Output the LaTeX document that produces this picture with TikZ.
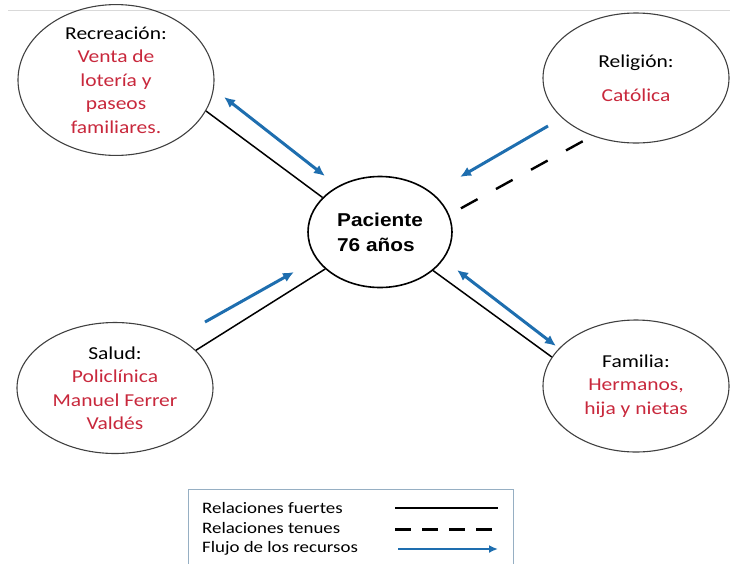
\documentclass[tikz,border=0pt]{standalone}
\usepackage{fontspec}
\setmainfont{Carlito}[FakeStretch=1.18]
\newfontfamily\pacfont{Liberation Sans}[FakeStretch=1.12]
\usetikzlibrary{shapes.geometric,arrows.meta}
\definecolor{textred}{RGB}{200,40,60}
\definecolor{flowblue}{RGB}{30,110,175}
\definecolor{boxgray}{RGB}{150,175,195}
\newcommand{\rd}[1]{\textcolor{textred}{#1}}
\tikzset{
  ambit/.style={draw=black!75, line width=1.1pt, ellipse, inner sep=0pt, align=center,
    font=\fontsize{18.2}{23.5}\selectfont},
  strong/.style={line width=1.5pt},
  weak/.style={line width=2.4pt, dash pattern=on 19pt off 21pt},
  flow/.style={flowblue, line width=3pt, -{Latex[length=11pt,width=10pt]}},
  flowboth/.style={flow, {Latex[length=11pt,width=10pt]}-{Latex[length=11pt,width=10pt]}},
  legtext/.style={anchor=west, inner sep=0pt, font=\fontsize{16}{20}\selectfont}
}
\begin{document}
\begin{tikzpicture}[x=1pt,y=-1pt]
                \useasboundingbox (0,0) rectangle (730,563);
                \draw[black!15] (8,10) -- (730,10);
                \draw (116,80) node[ambit, minimum width=196pt, minimum height=126pt] (rec) {Recreación:\\ \rd{Venta de}\\ \rd{lotería y}\\ \rd{paseos}\\ \rd{familiares.}};
                \draw (636,78) node[ambit, minimum width=186pt, minimum height=130pt] (rel) {Religión:\\[11pt] \rd{Católica}};
                \draw (380,232) node[ambit, draw=black, line width=1.6pt, minimum width=144pt, minimum height=111pt, align=left, font=\pacfont\bfseries\fontsize{18.6}{25}\selectfont] (pac) {Paciente\\76 años};
                \draw (115,388) node[ambit, minimum width=196pt, minimum height=131pt] (sal) {Salud:\\ \rd{Policlínica}\\ \rd{Manuel Ferrer}\\ \rd{Valdés}};
                \draw (636,386) node[ambit, minimum width=186pt, minimum height=132pt] (fam) {Familia:\\ \rd{Hermanos,}\\ \rd{hija y nietas}};
                \draw[strong] (rec.-19) -- (pac.149);
                \draw[weak, shorten <=11pt, shorten >=13pt] (rel.233) -- (pac.14);
                \draw[strong] (sal.25) -- (pac.214);
                \draw[strong] (pac.-36) -- (fam.161);
                \coordinate (recA) at (224,97);
                \coordinate (recB) at (325,176);
                \coordinate (relA) at (548,126);
                \coordinate (relB) at (460,177);
                \coordinate (salA) at (205,322);
                \coordinate (salB) at (294,272);
                \coordinate (famA) at (457,270);
                \coordinate (famB) at (556,346);
                \draw[flowboth] (recA) -- (recB);
                \draw[flow] (relA) -- (relB);
                \draw[flow] (salA) -- (salB);
                \draw[flowboth] (famA) -- (famB);
                \draw[boxgray, line width=1pt] (188,575) -- (188,489) -- (513,489) -- (513,575);
                \draw (202,508) node[legtext] (leg1) {Relaciones fuertes};
                \draw (202,528) node[legtext] (leg2) {Relaciones tenues};
                \draw (202,548) node[legtext] (leg3) {Flujo de los recursos};
                \coordinate (l1a) at (395,508);
                \coordinate (l1b) at (498,508);
                \coordinate (l2a) at (395,529);
                \coordinate (l2b) at (498,529);
                \coordinate (l3a) at (398,549);
                \coordinate (l3b) at (498,549);
                \draw[line width=2pt] (l1a) -- (l1b);
                \draw[line width=3pt, dash pattern=on 16pt off 11pt] (l2a) -- (l2b);
                \draw[flowblue, line width=2.5pt, -{Latex[length=9pt,width=8pt]}] (l3a) -- (l3b);
            \end{tikzpicture}
\end{document}
